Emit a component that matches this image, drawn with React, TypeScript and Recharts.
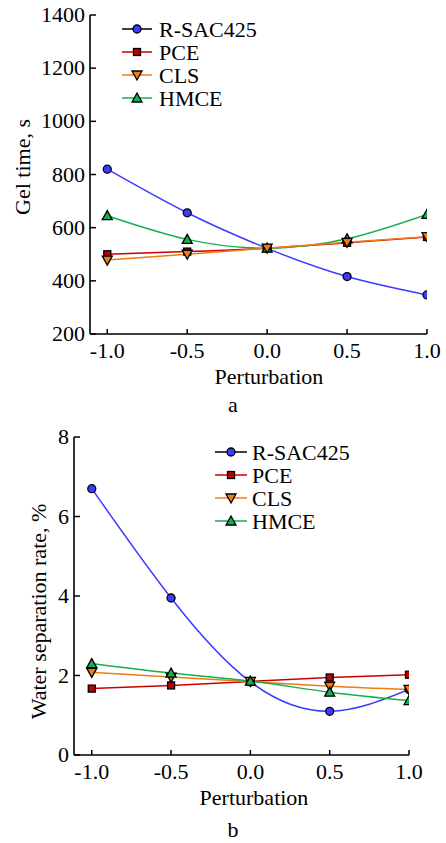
import { LineChart, Line, XAxis, YAxis, Legend } from "recharts";

const perturbation = [-1, -0.5, 0, 0.5, 1];

// panel a: gel time, s
const gelRSAC = [820, 656, 522, 416, 347];
const gelPCE = [500, 510, 523, 543, 565];
const gelCLS = [478, 500, 523, 545, 566];
const gelHMCE = [645, 556, 523, 558, 650];

// panel b: water separation rate, %
const sepRSAC = [6.7, 3.95, 1.84, 1.1, 1.65];
const sepPCE = [1.67, 1.75, 1.85, 1.95, 2.02];
const sepCLS = [2.08, 1.96, 1.85, 1.73, 1.65];
const sepHMCE = [2.3, 2.06, 1.86, 1.58, 1.37];

const xTicks = [-1, -0.5, 0, 0.5, 1];
const gelTicks = [200, 400, 600, 800, 1000, 1200, 1400];
const sepTicks = [0, 2, 4, 6, 8];

type Shape = "circle" | "square" | "down" | "up";
type Series = { key: string; name: string; color: string; fill: string; legendLine: string; shape: Shape };

const series: Series[] = [
  { key: "rsac", name: "R-SAC425", color: "#3b3bff", fill: "#3b3bff", legendLine: "#000", shape: "circle" },
  { key: "pce", name: "PCE", color: "#cc0000", fill: "#c00000", legendLine: "#cc0000", shape: "square" },
  { key: "cls", name: "CLS", color: "#f07d12", fill: "#f07d12", legendLine: "#f07d12", shape: "down" },
  { key: "hmce", name: "HMCE", color: "#12b04e", fill: "#12b04e", legendLine: "#12b04e", shape: "up" },
];

// drawing order differs a little between the panels (which marker sits on top)
const gelOrder = ["rsac", "pce", "hmce", "cls"];
const sepOrder = ["rsac", "pce", "cls", "hmce"];

const gelData = perturbation.map((x, i) => ({
  x,
  rsac: gelRSAC[i],
  pce: gelPCE[i],
  cls: gelCLS[i],
  hmce: gelHMCE[i],
}));

const sepData = perturbation.map((x, i) => ({
  x,
  rsac: sepRSAC[i],
  pce: sepPCE[i],
  cls: sepCLS[i],
  hmce: sepHMCE[i],
}));

const FONT = "'Liberation Serif', 'Times New Roman', serif";

function Marker({ shape, cx, cy, fill }: { shape: Shape; cx: number; cy: number; fill: string }) {
  const common = { fill, stroke: "#000", strokeWidth: 1.3 };
  if (shape === "circle") return <circle cx={cx} cy={cy} r={4} {...common} />;
  if (shape === "square") return <rect x={cx - 3.5} y={cy - 3.5} width={7} height={7} {...common} />;
  if (shape === "down")
    return <polygon points={`${cx - 5},${cy - 4} ${cx + 5},${cy - 4} ${cx},${cy + 5}`} {...common} />;
  return <polygon points={`${cx - 5},${cy + 4} ${cx + 5},${cy + 4} ${cx},${cy - 5}`} {...common} />;
}

const dotFor = (shape: Shape, fill: string) => (props: any) => {
  const { cx, cy, index } = props;
  return <Marker key={`d-${index}`} shape={shape} cx={cx} cy={cy} fill={fill} />;
};

const yTickFor = (axisX: number) => (props: any) => {
  const { y, payload } = props;
  return (
    <g>
      <line x1={axisX} x2={axisX + 6} y1={y} y2={y} stroke="#000" strokeWidth={1.5} />
      <text x={axisX - 5} y={y + 7} textAnchor="end" fontFamily={FONT} fontSize={22} fill="#000">
        {payload.value}
      </text>
    </g>
  );
};

const xTickFor = (axisY: number, labelOffset: number) => (props: any) => {
  const { x, payload } = props;
  return (
    <g>
      <line x1={x} x2={x} y1={axisY} y2={axisY - 5} stroke="#000" strokeWidth={1.5} />
      <text x={x} y={axisY + labelOffset} textAnchor="middle" fontFamily={FONT} fontSize={22} fill="#000">
        {payload.value.toFixed(1)}
      </text>
    </g>
  );
};

function LegendBox({ lineWidth, gap }: { lineWidth: number; gap: number }) {
  return (
    <div style={{ fontFamily: FONT, fontSize: 22, color: "#000" }}>
      {series.map((s) => (
        <div key={s.key} style={{ display: "flex", alignItems: "center", height: 23, lineHeight: "23px" }}>
          <svg width={lineWidth} height={14} style={{ display: "block" }}>
            <line x1={0} x2={lineWidth} y1={7} y2={7} stroke={s.legendLine} strokeWidth={1.5} />
            <Marker shape={s.shape} cx={lineWidth / 2} cy={7} fill={s.fill} />
          </svg>
          <span style={{ marginLeft: gap, whiteSpace: "nowrap" }}>{s.name}</span>
        </div>
      ))}
    </div>
  );
}

function TextAt({ x, y, text, rotate }: { x: number; y: number; text: string; rotate?: boolean }) {
  return (
    <text
      x={x}
      y={y}
      textAnchor="middle"
      fontFamily={FONT}
      fontSize={22}
      fill="#000"
      transform={rotate ? `rotate(-90, ${x}, ${y})` : undefined}
    >
      {text}
    </text>
  );
}

function renderLines(order: string[]) {
  return order.map((k) => {
    const s = series.find((d) => d.key === k)!;
    return (
      <Line
        key={s.key}
        type="natural"
        dataKey={s.key}
        name={s.name}
        stroke={s.color}
        strokeWidth={1.5}
        dot={dotFor(s.shape, s.fill)}
        activeDot={false}
        isAnimationActive={false}
      />
    );
  });
}

export default function App() {
  return (
    <div style={{ position: "absolute", left: 0, top: 0, width: 446, height: 843, background: "#fff" }}>
      <div style={{ position: "absolute", left: 0, top: 0 }}>
        <LineChart width={446} height={420} data={gelData} margin={{ top: 15, right: 19, bottom: 0, left: 0 }}>
          <XAxis
            type="number"
            dataKey="x"
            domain={[-1.108, 1]}
            allowDataOverflow
            ticks={xTicks}
            height={86}
            stroke="#000"
            strokeWidth={1.6}
            tickLine={false}
            tick={xTickFor(334, 24)}
            label={{
              content: () => (
                <g>
                  <TextAt x={269} y={383.5} text="Perturbation" />
                  <TextAt x={233} y={412} text="a" />
                </g>
              ),
            }}
          />
          <YAxis
            type="number"
            domain={[200, 1400]}
            ticks={gelTicks}
            width={90}
            stroke="#000"
            strokeWidth={1.6}
            tickLine={false}
            tick={yTickFor(90)}
            label={{ content: () => <TextAt x={30} y={167} text="Gel time, s" rotate /> }}
          />
          <Legend
            layout="horizontal"
            align="center"
            verticalAlign="middle"
            wrapperStyle={{ left: 122, top: 17.5, width: 200 }}
            content={() => <LegendBox lineWidth={30} gap={7} />}
          />
          {renderLines(gelOrder)}
        </LineChart>
      </div>
      <div style={{ position: "absolute", left: 0, top: 420 }}>
        <LineChart width={446} height={423} data={sepData} margin={{ top: 17, right: 37, bottom: 0, left: 0 }}>
          <XAxis
            type="number"
            dataKey="x"
            domain={[-1.112, 1]}
            allowDataOverflow
            ticks={xTicks}
            height={88}
            stroke="#000"
            strokeWidth={1.6}
            tickLine={false}
            tick={xTickFor(335, 24)}
            label={{
              content: () => (
                <g>
                  <TextAt x={254} y={384.5} text="Perturbation" />
                  <TextAt x={233} y={417} text="b" />
                </g>
              ),
            }}
          />
          <YAxis
            type="number"
            domain={[0, 8]}
            ticks={sepTicks}
            width={74}
            stroke="#000"
            strokeWidth={1.6}
            tickLine={false}
            tick={yTickFor(74)}
            label={{ content: () => <TextAt x={46} y={191.5} text="Water separation rate, %" rotate /> }}
          />
          <Legend
            layout="horizontal"
            align="center"
            verticalAlign="middle"
            wrapperStyle={{ left: 215, top: 20.8, width: 200 }}
            content={() => <LegendBox lineWidth={32} gap={5} />}
          />
          {renderLines(sepOrder)}
        </LineChart>
      </div>
    </div>
  );
}
